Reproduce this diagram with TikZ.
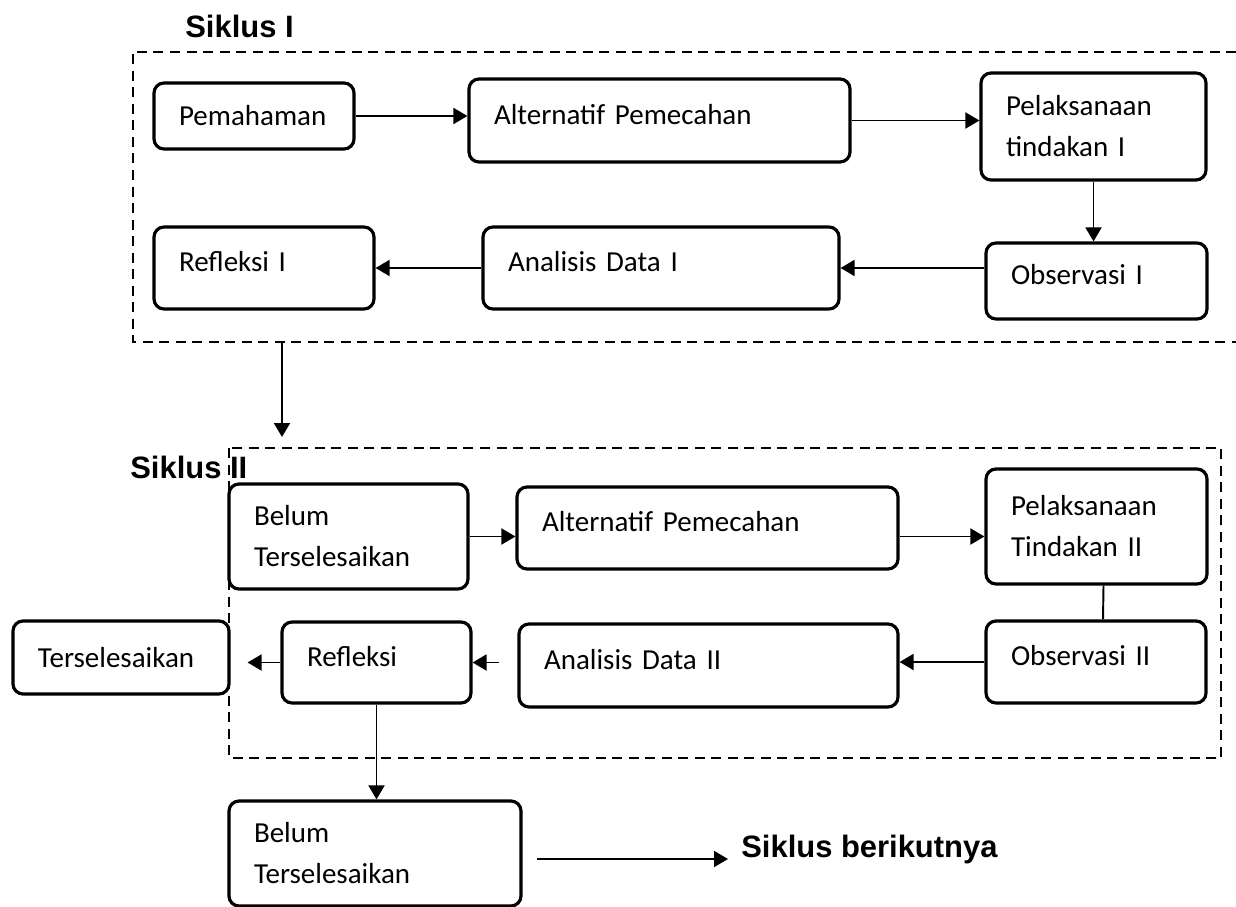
\documentclass[tikz,border=0pt]{standalone}
\usepackage{fontspec}
\setmainfont{Carlito}
\newfontfamily\headfont{Liberation Sans}
\usetikzlibrary{arrows.meta,calc}

\tikzset{
	box/.style={draw, rounded corners=0.2cm, line width=1.8pt, align=left, inner xsep=0.5cm, font=\fontsize{16.5}{23.3}\selectfont},
	raised/.style={text depth=0.25cm},
	arr/.style={-{Triangle[length=0.28cm,width=0.32cm]}, line width=1.1pt},
	frame/.style={dash pattern=on 0.2cm off 0.13cm, line width=0.9pt},
	head/.style={font=\headfont\bfseries\fontsize{17.6}{21}\selectfont, inner sep=0pt}
}

\begin{document}
\begin{tikzpicture}
\useasboundingbox (0,0) rectangle (24.72,-18.14);

%siklus I:
\node[head, anchor=west] (s1) at (3.70,-0.52) {Siklus I};
\draw[frame] (24.72,-1.04) -- (2.66,-1.04) -- (2.66,-6.84) -- (24.72,-6.84);

\node[box, text width=3.00cm, minimum height=1.32cm] (pem) at (5.08,-2.32) {Pemahaman};
\node[box, raised, text width=6.62cm, minimum height=1.66cm] (alt1) at (13.19,-2.41) {Alternatif Pemecahan};
\node[box, text width=3.50cm, minimum height=2.14cm] (pel1) at (21.87,-2.53) {Pelaksanaan\\tindakan I};
\node[box, raised, text width=3.42cm, minimum height=1.52cm] (obs1) at (21.93,-5.62) {Observasi I};
\node[box, raised, text width=6.12cm, minimum height=1.64cm] (ana1) at (13.22,-5.36) {Analisis Data I};
\node[box, raised, text width=3.40cm, minimum height=1.64cm] (ref1) at (5.28,-5.36) {Refleksi I};

\draw[arr] (pem.east) -- (pem.east -| alt1.west);
\draw[arr] (alt1.east) -- (alt1.east -| pel1.west);
\draw[arr] (pel1.south) -- (pel1.south |- obs1.north);
\draw[arr] (obs1.west |- ana1.east) -- (ana1.east);
\draw[arr] (ana1.west) -- (ref1.east);

%to siklus II:
\coordinate (out1) at (5.64,-6.86);
\coordinate (in2) at (5.64,-8.74);
\draw[arr] (out1) -- (in2);

%siklus II:
\draw[frame] (4.58,-8.96) rectangle (24.42,-15.16);
\node[head, anchor=west] (s2) at (2.60,-9.34) {Siklus II};

\node[box, text width=3.78cm, minimum height=2.10cm] (bel1) at (6.97,-10.73) {Belum\\Terselesaikan};
\node[box, raised, text width=6.62cm, minimum height=1.64cm] (alt2) at (14.15,-10.56) {Alternatif Pemecahan};
\node[box, text width=3.42cm, minimum height=2.30cm] (pel2) at (21.93,-10.53) {Pelaksanaan\\Tindakan II};
\node[box, raised, text width=3.40cm, minimum height=1.64cm] (obs2) at (21.92,-13.24) {Observasi II};
\node[box, raised, text width=6.58cm, minimum height=1.66cm] (ana2) at (14.17,-13.31) {Analisis Data II};
\node[box, raised, text width=2.78cm, minimum height=1.62cm] (ref2) at (7.53,-13.25) {Refleksi};
\node[box, text width=3.32cm, minimum height=1.46cm] (sel) at (2.42,-13.15) {Terselesaikan};
\node[box, text width=4.84cm, minimum height=2.10cm] (bel2) at (7.50,-17.07) {Belum\\Terselesaikan};

\draw[arr] (bel1.east) -- (bel1.east -| alt2.west);
\draw[arr] (alt2.east |- bel1.east) -- (pel2.west |- bel1.east);
\draw[line width=1.1pt] ([xshift=0.14cm]pel2.south) -- ([xshift=0.14cm]obs2.north);
\draw[arr] (obs2.west) -- (obs2.west -| ana2.east);
\draw[arr] ($(ana2.west |- ref2.east)+(-0.36,0)$) -- (ref2.east);
\draw[arr] (ref2.west) -- ($(sel.east |- ref2.west)+(0.34,0)$);
\draw[arr] (ref2.south) -- (ref2.south |- bel2.north);

%next cycle:
\node[head, anchor=base west] (next) at (14.82,-17.14) {Siklus berikutnya};
\draw[arr] ($(bel2.east |- next.base)+(0.28,-0.04)$) -- ($(next.base west)+(-0.26,-0.04)$);
\end{tikzpicture}
\end{document}
